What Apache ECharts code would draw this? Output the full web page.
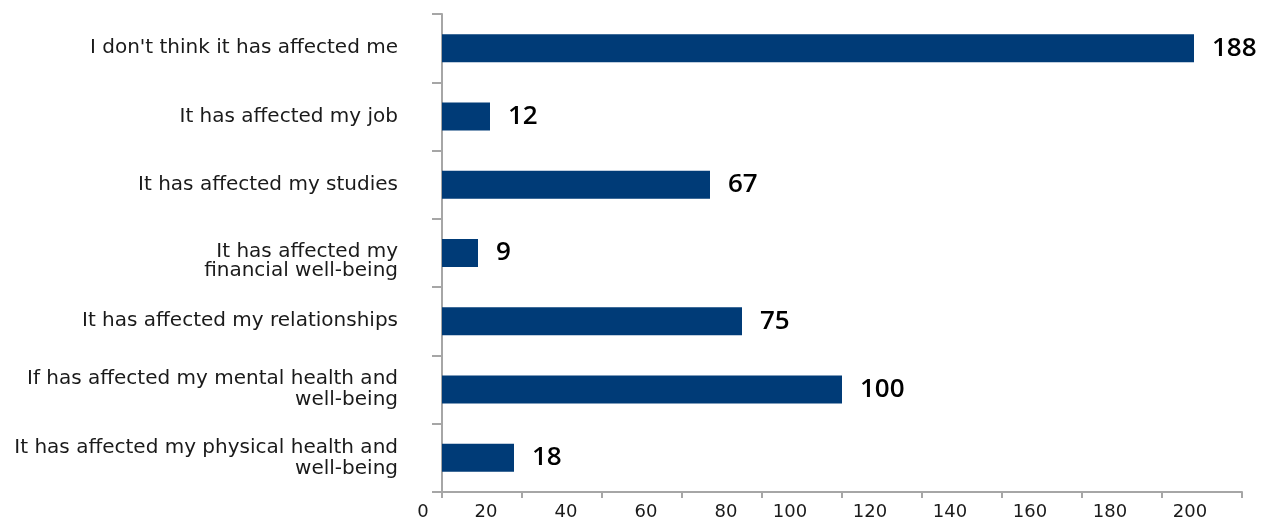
<!DOCTYPE html>
<html>
<head>
<meta charset="utf-8">
<script src="https://cdn.jsdelivr.net/npm/echarts@6/dist/echarts.min.js"></script>
<style>
html,body{margin:0;padding:0;background:#fff;}
#c{width:1262px;height:524px;}
</style>
</head>
<body>
<div id="c"></div>
<script>
const categories = [
  "I don't think it has affected me",
  "It has affected my job",
  "It has affected my studies",
  "It has affected my\nfinancial well-being",
  "It has affected my relationships",
  "If has affected my mental health and\nwell-being",
  "It has affected my physical health and\nwell-being"
];
const values = [188, 12, 67, 9, 75, 100, 18];
const xTicks = [0, 20, 40, 60, 80, 100, 120, 140, 160, 180, 200];

const chart = echarts.init(document.getElementById('c'));
const axisColor = '#a6a6a6';
const font = '"Open Sans", sans-serif';
const catFont = '"DejaVu Sans", sans-serif';
const base = { fontSize: 20, color: '#1a1a1a', fontFamily: catFont, lineHeight: 21 };
const tickBase = { fontSize: 18, color: '#1a1a1a', fontFamily: catFont };
chart.setOption({
  animation: false,
  grid: { left: 442, right: 20, top: 14, bottom: 32, containLabel: false },
  xAxis: {
    type: 'value', min: xTicks[0], max: xTicks[xTicks.length - 1], interval: 20,
    splitLine: { show: false },
    axisLine: { show: true, lineStyle: { color: axisColor, width: 2 } },
    axisTick: { show: true, length: 6, lineStyle: { color: axisColor, width: 2 } },
    axisLabel: {
      margin: 11,
      formatter: function (v) {
        const s = String(v);
        return '{d' + s.length + '|' + s + '}';
      },
      rich: {
        d1: Object.assign({}, tickBase, { padding: [0, 38, 0, 0] }),
        d2: Object.assign({}, tickBase, { padding: [0, 72, 0, 0] }),
        d3: Object.assign({}, tickBase, { padding: [0, 104, 0, 0] })
      }
    }
  },
  yAxis: {
    type: 'category', data: categories, inverse: true,
    axisLine: { show: true, lineStyle: { color: axisColor, width: 2 } },
    axisTick: { show: true, length: 10, alignWithLabel: false, lineStyle: { color: axisColor, width: 2 } },
    axisLabel: {
      margin: 44, align: 'right',
      formatter: function (v, i) {
        const lines = v.split('\n');
        if (lines.length === 1) return '{s|' + v + '}';
        if (i === 3) return '{sp| }\n{ub|' + lines[0] + '}\n{ub|' + lines[1] + '}';
        return '{s|' + lines[0] + '}\n{s|' + lines[1] + '}';
      },
      rich: {
        s: base,
        sp: { fontSize: 2, lineHeight: 16 },
        ub: Object.assign({}, base, { lineHeight: 19 })
      }
    }
  },
  series: [{
    type: 'bar', data: values, barWidth: 28,
    itemStyle: { color: '#003b77' },
    label: {
      show: true, position: 'right', distance: 18,
      fontSize: 26, fontWeight: 600, color: '#000', fontFamily: font
    }
  }]
});
</script>
</body>
</html>
